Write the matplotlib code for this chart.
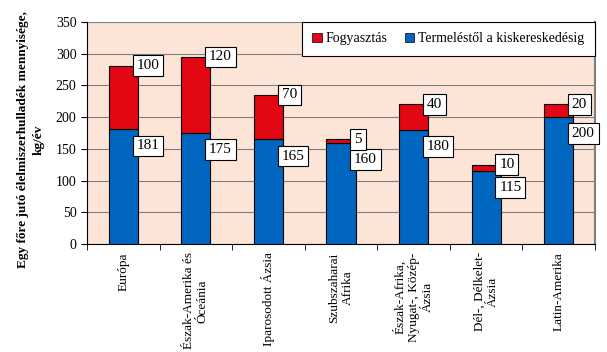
import matplotlib
matplotlib.use("Agg")
import matplotlib.pyplot as plt
import numpy as np
from matplotlib.patches import Patch

categories = ["Európa", "Észak-Amerika és\nÓceánia", "Iparosodott Ázsia", "Szubszaharai\nAfrika",
              "Észak-Afrika,\nNyugat-, Közép-\nÁzsia", "Dél-, Délkelet-\nÁzsia", "Latin-Amerika"]
termeles = [181, 175, 165, 160, 180, 115, 200]
fogyasztas = [100, 120, 70, 5, 40, 10, 20]
yticks = [0, 50, 100, 150, 200, 250, 300, 350]

plt.rcParams['font.family'] = ['Liberation Serif', 'DejaVu Serif']
RED = '#E30613'
BLUE = '#0066BF'
BG = '#FCE4D6'

fig = plt.figure(figsize=(6.07, 3.52), dpi=100)
ax = fig.add_axes([87/607, 1-244/352, (595-87)/607, (244-22)/352])
ax.set_facecolor(BG)
x = np.arange(len(categories))
w = 0.4
ax.bar(x, termeles, w, color=BLUE, edgecolor='black', linewidth=0.8, zorder=3)
ax.bar(x, fogyasztas, w, bottom=termeles, color=RED, edgecolor='black', linewidth=0.8, zorder=3)

bbox = dict(boxstyle='square,pad=0.25', fc='white', ec='black', lw=0.8)
for i in range(len(x)):
    ax.annotate(str(termeles[i]), (x[i] + w/2, termeles[i]), xytext=(-1, -12), textcoords='offset points',
                ha='left', va='center', fontsize=11, bbox=bbox, zorder=5)
    ax.annotate(str(fogyasztas[i]), (x[i] + w/2, termeles[i] + fogyasztas[i]), xytext=(-1, 0),
                textcoords='offset points', ha='left', va='center', fontsize=11, bbox=bbox, zorder=5)

ax.set_xlim(-0.5, len(categories) - 0.5)
ax.set_ylim(0, 350)
ax.set_yticks(yticks)
ax.yaxis.grid(True, color='#808080', linewidth=0.8, zorder=1)
ax.tick_params(axis='y', labelsize=10, direction='out', length=4)
ax.set_xticks(x)
ax.set_xticklabels(categories, rotation=90, ha='center', va='top', multialignment='center', fontsize=9.5)
ax.tick_params(axis='x', which='major', length=0, pad=6)
ax.set_xticks(np.arange(len(categories) + 1) - 0.5, minor=True)
ax.tick_params(axis='x', which='minor', direction='out', length=4)
for s in ax.spines.values():
    s.set_color('black')
    s.set_linewidth(0.8)
ax.spines['top'].set_visible(False)
ax.spines['right'].set_color('#7f7f7f')
ax.spines['right'].set_linewidth(1.5)

ax.set_ylabel("Egy főre jutó élelmiszerhulladék mennyisége,\nkg/év", fontsize=9.5, fontweight='bold',
              labelpad=6, linespacing=1.4)
ax.yaxis.set_label_coords(-0.083, 0.47)

handles = [Patch(facecolor=RED, edgecolor='black', lw=0.5), Patch(facecolor=BLUE, edgecolor='black', lw=0.5)]
leg = ax.legend(handles, ['Fogyasztás', 'Termeléstől a kiskereskedésig'], loc='upper right', ncol=2,
                fontsize=10, frameon=True, fancybox=False, edgecolor='black', framealpha=1,
                handlelength=0.7, handleheight=0.7, handletextpad=0.3, columnspacing=1.2,
                bbox_to_anchor=(1.0, 1.0), borderaxespad=0, borderpad=0.75)
leg.get_frame().set_linewidth(0.8)
leg.set_zorder(6)

fig.savefig("out.png", dpi=100)
